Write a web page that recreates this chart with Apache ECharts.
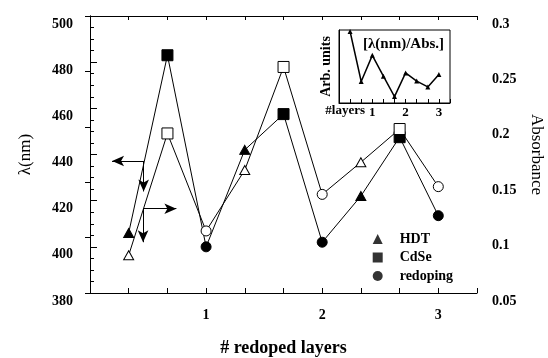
<!DOCTYPE html>
<html>
<head>
<meta charset="utf-8">
<script src="https://cdn.jsdelivr.net/npm/echarts@6/dist/echarts.min.js"></script>
<style>
html,body{margin:0;padding:0;background:#fff;}
#chart{width:548px;height:358px;}
</style>
</head>
<body>
<div id="chart"></div>
<script>
// ---- data ----
const layers = [0.333, 0.667, 1, 1.333, 1.667, 2, 2.333, 2.667, 3];
const stepTypes = ['HDT', 'CdSe', 'redoping', 'HDT', 'CdSe', 'redoping', 'HDT', 'CdSe', 'redoping'];
const lambdaNm = [406, 483, 400, 442, 457.5, 402, 422, 447.5, 413.5];
const absorbance = [0.084, 0.194, 0.106, 0.161, 0.254, 0.139, 0.168, 0.198, 0.146];
const ratioArb = [4830, 2500, 3720, 2750, 1800, 2900, 2520, 2250, 2830];
const legendNames = ['HDT', 'CdSe', 'redoping'];
const xTickLabels = ['1', '2', '3'];
const lambdaRange = [380, 500, 20];
const absRange = [0.05, 0.3, 0.05];
// annotation arrows [from, to] in (layers, λ) units
const axisArrows = [
  [[0.462, 437.2], [0.19, 437.2]],
  [[0.462, 437.2], [0.462, 424]],
  [[0.457, 416.5], [0.744, 416.5]],
  [[0.457, 416.5], [0.457, 402]]
];

// ---- styles ----
const SERIF = '"Liberation Serif", "Times New Roman", serif';
const symbolFor = { HDT: 'triangle', CdSe: 'rect', redoping: 'circle' };
const sizeFor = { HDT: [10, 9], CdSe: 11, redoping: 10 };

function pts(ys, filled) {
  return layers.map((x, i) => ({
    value: [x, ys[i]],
    symbol: symbolFor[stepTypes[i]],
    symbolSize: sizeFor[stepTypes[i]],
    itemStyle: filled ? { color: '#000', borderColor: '#000', borderWidth: 1 }
                      : { color: '#fff', borderColor: '#000', borderWidth: 1 }
  }));
}
function xLabel(v) {
  const r = Math.round(v);
  if (Math.abs(v - r) < 0.01 && r >= 1 && r <= xTickLabels.length) return xTickLabels[r - 1];
  return '';
}

const chart = echarts.init(document.getElementById('chart'), null, { renderer: 'canvas' });
const black = { color: '#000', width: 1 };

chart.setOption({
  animation: false,
  backgroundColor: '#fff',
  textStyle: { fontFamily: SERIF, color: '#000' },
  grid: [
    { left: 90, top: 16, right: 71, bottom: 65, containLabel: false, outerBoundsMode: 'none' },
    { left: 339, top: 30, width: 111, height: 73, show: true, borderColor: '#000', borderWidth: 1,
      backgroundColor: 'transparent', containLabel: false, outerBoundsMode: 'none' }
  ],
  legend: {
    orient: 'vertical', left: 372.7, top: 232, padding: 0,
    itemWidth: 10, itemHeight: 10, itemGap: 4.5,
    textStyle: { fontFamily: SERIF, fontWeight: 'bold', fontSize: 14, color: '#000', padding: [0, 0, 0, 12] },
    data: legendNames.map(n => ({ name: n, icon: symbolFor[n] })),
    selectedMode: false
  },
  xAxis: [
    { gridIndex: 0, type: 'value', min: 0, max: 10 / 3, interval: 1 / 3, position: 'bottom',
      axisLine: { lineStyle: black }, axisTick: { inside: true, length: 5, lineStyle: black },
      splitLine: { show: false },
      axisLabel: { formatter: xLabel, margin: 15, fontFamily: SERIF, fontWeight: 'bold', fontSize: 14, color: '#000' },
      name: '# redoped layers', nameLocation: 'middle', nameGap: 46,
      nameTextStyle: { fontFamily: SERIF, fontWeight: 'bold', fontSize: 18, color: '#000' } },
    { gridIndex: 0, type: 'value', min: 0, max: 10 / 3, interval: 1 / 3, position: 'top',
      axisLine: { lineStyle: black }, axisTick: { inside: true, length: 4, lineStyle: black },
      splitLine: { show: false }, axisLabel: { show: false } },
    { gridIndex: 1, type: 'value', min: 0, max: 10 / 3, interval: 1 / 3, position: 'bottom',
      axisLine: { lineStyle: black }, axisTick: { inside: true, length: 4, lineStyle: black },
      splitLine: { show: false },
      axisLabel: { formatter: xLabel, margin: 3, fontFamily: SERIF, fontWeight: 'bold', fontSize: 13, color: '#000' } }
  ],
  yAxis: [
    { gridIndex: 0, type: 'value', min: lambdaRange[0], max: lambdaRange[1], interval: lambdaRange[2], position: 'left',
      axisLine: { show: true, lineStyle: black },
      axisTick: { inside: true, length: 7, lineStyle: black },
      minorTick: { show: true, splitNumber: 4, length: 4, lineStyle: black },
      splitLine: { show: false },
      axisLabel: { margin: 17, verticalAlign: 'top', lineHeight: 16, fontFamily: SERIF, fontWeight: 'bold', fontSize: 14, color: '#000' },
      name: 'λ(nm)', nameLocation: 'middle', nameRotate: 90, nameGap: 56,
      nameTextStyle: { fontFamily: SERIF, fontSize: 17, color: '#000' } },
    { gridIndex: 0, type: 'value', min: absRange[0], max: absRange[1], interval: absRange[2], position: 'right',
      axisLine: { show: true, lineStyle: black },
      axisTick: { inside: true, length: 5, lineStyle: black },
      splitLine: { show: false },
      axisLabel: { margin: 15, verticalAlign: 'top', lineHeight: 16, fontFamily: SERIF, fontWeight: 'bold', fontSize: 14, color: '#000',
        formatter: v => String(Math.round(v * 100) / 100) },
      name: 'Absorbance', nameLocation: 'middle', nameRotate: -90, nameGap: 51,
      nameTextStyle: { fontFamily: SERIF, fontSize: 17, color: '#000' } },
    { gridIndex: 1, type: 'value', min: 1500, max: 4900,
      axisLine: { show: true, lineStyle: black }, axisTick: { show: false },
      axisLabel: { show: false }, splitLine: { show: false },
      name: 'Arb. units', nameLocation: 'middle', nameRotate: 90, nameGap: 6,
      nameTextStyle: { fontFamily: SERIF, fontWeight: 'bold', fontSize: 14, color: '#000' } }
  ],
  graphic: [
    { type: 'text', left: 363, top: 37, z: 10,
      style: { text: '[λ(nm)/Abs.]', font: 'bold 15px ' + SERIF, fill: '#000' } },
    { type: 'text', right: 548 - 365, top: 104, z: 10,
      style: { text: '#layers', font: 'bold 13px ' + SERIF, fill: '#000' } }
  ],
  series: [
    { name: 'λ', type: 'line', xAxisIndex: 0, yAxisIndex: 0, data: pts(lambdaNm, true),
      lineStyle: { color: '#000', width: 1 }, z: 3,
      markLine: {
        silent: true, animation: false,
        symbol: ['none', 'arrow'], symbolSize: [8, 12],
        label: { show: false },
        lineStyle: { color: '#000', width: 1, type: 'solid' },
        emphasis: { disabled: true },
        data: axisArrows.map(a => [{ coord: a[0] }, { coord: a[1] }])
      } },
    { name: 'Abs', type: 'line', xAxisIndex: 0, yAxisIndex: 1, data: pts(absorbance, false),
      lineStyle: { color: '#000', width: 1 }, z: 4 },
    { name: 'ratio', type: 'line', xAxisIndex: 2, yAxisIndex: 2,
      data: layers.map((x, i) => [x, ratioArb[i]]),
      symbol: 'triangle', symbolSize: 5, itemStyle: { color: '#000' },
      lineStyle: { color: '#000', width: 1.5 } },
    ...legendNames.map(n => ({ name: n, type: 'scatter', xAxisIndex: 0, yAxisIndex: 0, data: [],
      symbol: symbolFor[n], itemStyle: { color: '#000' } }))
  ]
});
</script>
</body>
</html>
